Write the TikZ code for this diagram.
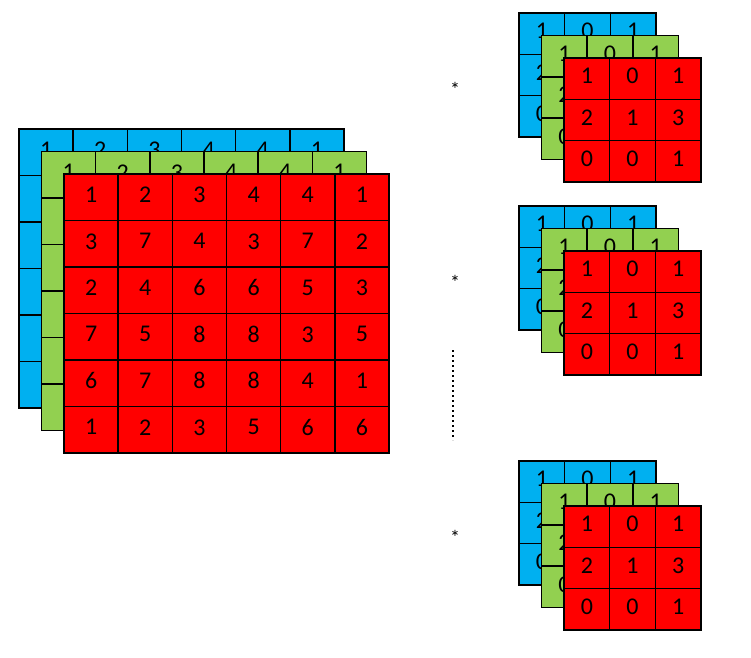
\documentclass[tikz,border=0pt]{standalone}
\usepackage{fontspec}
\setmainfont{Carlito}
\usepackage{xcolor}
\usepackage{tikz}
\usetikzlibrary{positioning}
\definecolor{blue}{RGB}{0,176,240}
\definecolor{green}{RGB}{146,208,80}
\definecolor{red}{RGB}{255,0,0}

\begin{document}
\begin{tikzpicture}[x=1pt,y=-1pt,
  cell/.style={inner sep=0pt,outer sep=0pt,text depth=5pt,font=\fontsize{24}{28}\selectfont},
  big/.style={cell,minimum width=54.17pt,minimum height=46.5pt},
  small/.style={cell,minimum width=45.67pt,minimum height=41.33pt},
  grid/.style={draw=black,line width=1.6pt},
  dots/.style={line width=1.6pt,dash pattern=on 1.6pt off 3.4pt}]
\useasboundingbox (0,0) rectangle (751,657);
% input volume, three channels
\foreach \col/\d in {blue/0,green/22.5,red/45}{
  \foreach \row [count=\i] in {{1,2,3,4,4,1},{3,7,4,3,7,2},{2,4,6,6,5,3},{7,5,8,8,3,5},{6,7,8,8,4,1},{1,2,3,5,6,6}}
    \foreach \n [count=\j] in \row
      \node[big,fill=\col] (in-\col-\i-\j) at ({19+\d+(\j-.5)*54.17},{129+\d+(\i-.5)*46.5}) {\n};
  \foreach \i in {1,...,6}
    \foreach \j in {1,...,6}
      \draw[grid] (in-\col-\i-\j.north west) rectangle (in-\col-\i-\j.south east);
}
% kernels
\foreach \y [count=\k] in {13,206,461}{
  \foreach \col/\d in {blue/0,green/22.5,red/45}{
    \foreach \row [count=\i] in {{1,0,1},{2,1,3},{0,0,1}}
      \foreach \n [count=\j] in \row
        \node[small,fill=\col] (k\k-\col-\i-\j) at ({519+\d+(\j-.5)*45.67},{\y+\d+(\i-.5)*41.33}) {\n};
    \foreach \i in {1,2,3}
      \foreach \j in {1,2,3}
        \draw[grid] (k\k-\col-\i-\j.north west) rectangle (k\k-\col-\i-\j.south east);
  }
  \node[font=\fontsize{20}{24}\selectfont,inner sep=0pt] (op\k) at (455,\y+76) {*};
}
\coordinate (dots-top) at (453,350);
\coordinate (dots-bot) at (453,440);
\draw[dots] (dots-top) -- (dots-bot);
\end{tikzpicture}
\end{document}
